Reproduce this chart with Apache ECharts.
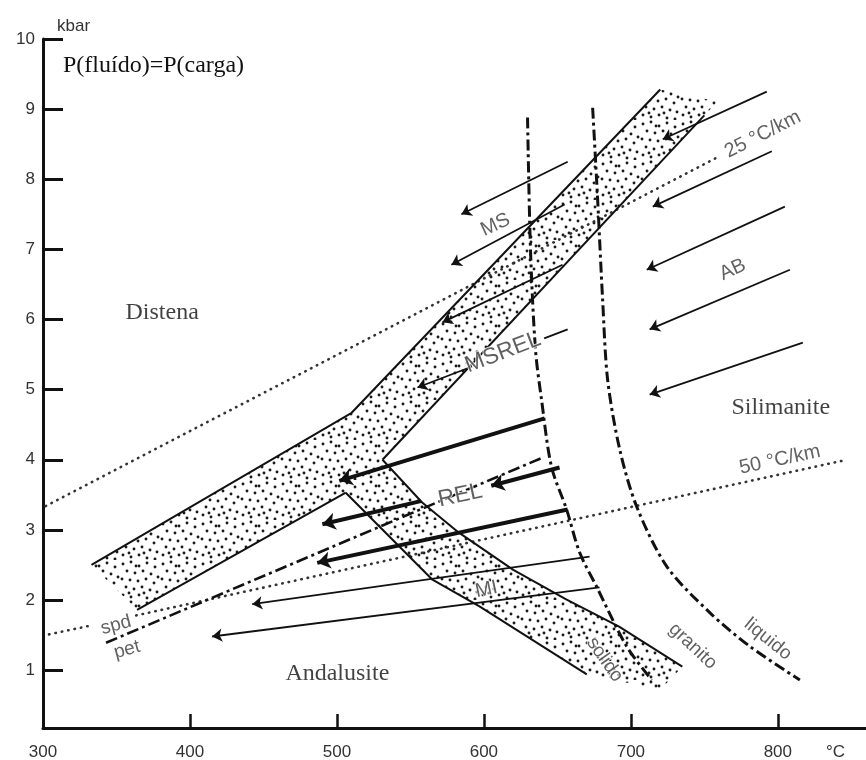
<!DOCTYPE html>
<html>
<head>
<meta charset="utf-8">
<script src="https://cdn.jsdelivr.net/npm/echarts@6/dist/echarts.min.js"></script>
<style>
  html, body { margin: 0; padding: 0; background: #fff; }
  #main { width: 866px; height: 760px; }
</style>
</head>
<body>
<div id="main"></div>
<script>
// axes: temperature (°C) and pressure (kbar)
const xTicks = [400, 500, 600, 700, 800];
const xLabels = [300, 400, 500, 600, 700, 800];
const yTicks = [1, 2, 3, 4, 5, 6, 7, 8, 9, 10];

// stippled band, edges as [T, P]
const bandUpperLeft = [[333, 2.50], [510, 4.67], [720, 9.28]];
const bandTopRight = [759, 9.11];
const bandRight = [[750, 8.91], [531, 4.00]];
const lowerArmUpper = [[531, 4.00], [558, 3.39], [583, 2.96], [620, 2.43], [656, 2.01], [692, 1.62], [735, 1.05]];
const lowerArmEnd = [[720, 0.72], [670, 0.94]];
const lowerArmLower = [[506, 3.53], [565, 2.29], [597, 1.91], [670, 0.94]];
const leftArmLower = [[364, 1.86], [506, 3.53]];

// dash-dot curves
const solidus = [[629.7, 8.88], [631.7, 7.00], [635.1, 5.57], [639.2, 4.86], [646.0, 3.90], [656.3, 3.29], [665.1, 2.68], [676.7, 2.19], [697.1, 1.34], [714.2, 0.86]];
const liquidus = [[674.0, 9.02], [677.4, 7.71], [680.8, 6.28], [684.2, 5.14], [692.4, 4.15], [704.0, 3.33], [724.4, 2.48], [753.7, 1.82], [780.9, 1.34], [815.0, 0.86]];
const spdPet = [[342.9, 1.39], [639.9, 4.03]];

// dotted geotherms
const geo25 = [[301.8, 3.34], [760.5, 8.33]];
const geo50a = [[304.1, 1.51], [333.4, 1.64]];
const geo50b = [[363.4, 1.78], [847.0, 4.00]];

// arrows [from, to]
const thinArrows = [
  [[657.0, 8.25], [584.7, 7.50]],
  [[654.9, 7.64], [577.9, 6.78]],
  [[653.5, 6.78], [571.8, 5.96]],
  [[792.5, 9.25], [721.7, 8.57]],
  [[795.9, 8.40], [714.9, 7.61]],
  [[804.8, 7.61], [710.8, 6.71]],
  [[808.2, 6.71], [712.8, 5.86]],
  [[817.0, 5.67], [712.8, 4.93]],
  [[671.9, 2.62], [442.4, 1.94]],
  [[678.7, 2.18], [415.1, 1.48]]
];
const msrelArrow = [[[657.0, 5.86], [641.0, 5.73]], [[592.0, 5.33], [554.8, 5.03]]];
const thickArrows = [
  [[641.3, 4.59], [501.6, 3.70]],
  [[651.5, 3.89], [605.0, 3.63]],
  [[557.0, 3.41], [490.1, 3.08]],
  [[657.0, 3.29], [486.6, 2.53]]
];

// text annotations [text, T, P, angle, size]
const sansNotes = [
  ['MS', 607.9, 7.35, 25, 20],
  ['MSREL', 613.0, 5.53, 21, 23],
  ['REL', 584.0, 3.49, 12, 23],
  ['MI', 601.8, 2.15, 12, 20],
  ['AB', 769.3, 6.71, 25, 20],
  ['25 °C/km', 789.8, 8.64, 27, 20],
  ['50 °C/km', 801.4, 4.00, 12, 20],
  ['spd', 349.7, 1.64, 15, 19],
  ['pet', 357.2, 1.29, 15, 19],
  ['solido', 682.2, 1.15, -55, 19],
  ['granito', 742.1, 1.34, -43, 19],
  ['liquido', 793.2, 1.44, -39, 19]
];
const serifNotes = [
  ['Distena', 381.1, 6.10],
  ['Silimanite', 802.0, 4.74],
  ['Andalusite', 500.3, 0.95]
];

// stipple texture (irregular dots in a 40px tile)
const tile = document.createElement('canvas');
tile.width = 40; tile.height = 40;
const tctx = tile.getContext('2d');
tctx.fillStyle = '#1a1a1a';
[[3, 4], [11, 2], [19, 6], [27, 3], [35, 7], [7, 11], [15, 13], [23, 11], [31, 14], [38, 17],
 [2, 19], [10, 20], [18, 21], [26, 19], [34, 23], [6, 27], [14, 29], [22, 27], [30, 30], [37, 32],
 [3, 35], [11, 37], [19, 35], [27, 38], [35, 39], [16, 6], [24, 33], [9, 33]].forEach(function (d) {
  tctx.beginPath(); tctx.arc(d[0], d[1], 1.45, 0, Math.PI * 2); tctx.fill();
});

const bandPolygon = [].concat(
  bandUpperLeft, [bandTopRight], lowerArmUpper, lowerArmEnd,
  lowerArmLower.slice().reverse(), leftArmLower.slice(0, 1)
);

function edge(data, width) {
  return { type: 'line', data: data, showSymbol: false, silent: true, z: 4,
    lineStyle: { color: '#111', width: width || 2 } };
}
function dashDot(data) {
  return { type: 'line', data: data, showSymbol: false, silent: true, smooth: 0.3, z: 4,
    lineStyle: { color: '#111', width: 3, type: [11, 4, 3, 4] } };
}
function dotted(data) {
  return { type: 'line', data: data, showSymbol: false, silent: true, z: 3,
    lineStyle: { color: '#333', width: 2.6, type: [0.5, 6], cap: 'round' } };
}

const option = {
  animation: false,
  backgroundColor: '#fff',
  grid: { left: 43, right: 0, top: 39, bottom: 32, containLabel: false, outerBoundsMode: 'none' },
  xAxis: {
    type: 'value', min: 300, max: 860,
    axisLine: { lineStyle: { color: '#111', width: 3 } },
    axisTick: { inside: true, length: 14, customValues: xTicks, lineStyle: { color: '#111', width: 2.5 } },
    axisLabel: { customValues: xLabels, margin: 16, fontSize: 17, color: '#333', fontFamily: 'Liberation Sans' },
    splitLine: { show: false }
  },
  yAxis: {
    type: 'value', min: 0.175, max: 10,
    axisLine: { show: true, lineStyle: { color: '#111', width: 3 } },
    axisTick: { show: true, inside: true, length: 20, customValues: yTicks, lineStyle: { color: '#111', width: 3 } },
    axisLabel: { customValues: yTicks, margin: 8, fontSize: 17, color: '#333', fontFamily: 'Liberation Sans' },
    splitLine: { show: false }
  },
  graphic: [
    { type: 'text', x: 57, y: 18, style: { text: 'kbar', font: '17px "Liberation Sans"', fill: '#333' } },
    { type: 'text', x: 826, y: 744, style: { text: '°C', font: '17px "Liberation Sans"', fill: '#333' } },
    { type: 'text', x: 63, y: 54, style: { text: 'P(fluído)=P(carga)', font: '24px "Liberation Serif"', fill: '#111' } }
  ],
  series: [
    {
      type: 'custom', silent: true, z: 1, clip: false,
      data: [0],
      renderItem: function (params, api) {
        return {
          type: 'polygon',
          shape: { points: bandPolygon.map(function (p) { return api.coord(p); }) },
          style: { fill: { image: tile, repeat: 'repeat' }, stroke: null }
        };
      }
    },
    edge(bandUpperLeft),
    edge(bandRight),
    edge(lowerArmUpper),
    edge(lowerArmLower),
    edge(leftArmLower),
    dashDot(solidus),
    dashDot(liquidus),
    { type: 'line', data: spdPet, showSymbol: false, silent: true, z: 4,
      lineStyle: { color: '#111', width: 2.6, type: [12, 4, 3, 4] } },
    dotted(geo25),
    dotted(geo50a),
    dotted(geo50b),
    {
      type: 'lines', coordinateSystem: 'cartesian2d', silent: true, z: 5,
      symbol: ['none', 'arrow'], symbolSize: 10,
      lineStyle: { color: '#111', width: 1.8, opacity: 1 },
      data: thinArrows.concat(msrelArrow.slice(1)).map(function (a) { return { coords: a }; })
    },
    {
      type: 'lines', coordinateSystem: 'cartesian2d', silent: true, z: 5,
      symbol: ['none', 'none'],
      lineStyle: { color: '#111', width: 1.8, opacity: 1 },
      data: msrelArrow.slice(0, 1).map(function (a) { return { coords: a }; })
    },
    {
      type: 'lines', coordinateSystem: 'cartesian2d', silent: true, z: 5,
      symbol: ['none', 'arrow'], symbolSize: 13,
      lineStyle: { color: '#111', width: 4, opacity: 1 },
      data: thickArrows.map(function (a) { return { coords: a }; })
    },
    {
      type: 'scatter', symbolSize: 0, silent: true, z: 6,
      data: sansNotes.map(function (n) {
        return { name: n[0], value: [n[1], n[2]], label: { rotate: n[3], fontSize: n[4] } };
      }),
      label: { show: true, position: 'inside', formatter: '{b}',
        fontFamily: 'Liberation Sans', color: '#3a3a3a',
        textBorderColor: '#fff', textBorderWidth: 2 }
    },
    {
      type: 'scatter', symbolSize: 0, silent: true, z: 6,
      data: serifNotes.map(function (n) { return { name: n[0], value: [n[1], n[2]] }; }),
      label: { show: true, position: 'inside', formatter: '{b}', fontSize: 24,
        fontFamily: 'Liberation Serif', color: '#111' }
    }
  ]
};

const chart = echarts.init(document.getElementById('main'));
chart.setOption(option);
</script>
</body>
</html>
